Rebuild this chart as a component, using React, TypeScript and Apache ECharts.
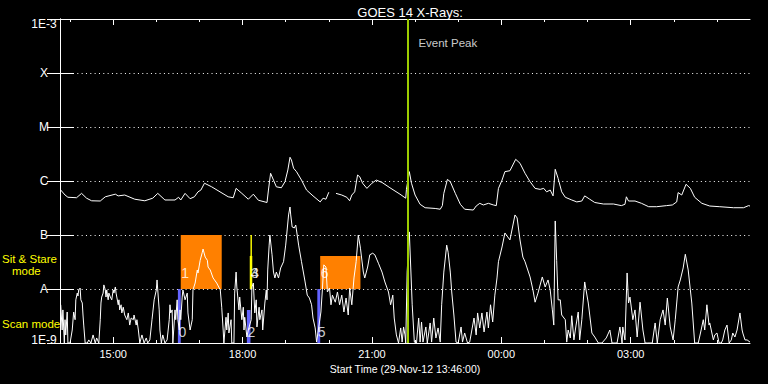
import React, { useEffect, useRef } from 'react';
import * as echarts from 'echarts';

// time is expressed in minutes elapsed since the start time 29-Nov-12 13:46:00
const START_CLOCK_MIN = 13 * 60 + 46;
const X_SPAN_MIN = 960;
const xLabelMinutes = [74, 254, 434, 614, 794];
const xTickLabels = ['15:00', '18:00', '21:00', '00:00', '03:00'];
const hourTickMinutes = [14, 74, 134, 194, 254, 314, 374, 434, 494, 554, 614, 674, 734, 794, 854, 914];
const yTickLabels = ['1E-9', 'A', 'B', 'C', 'M', 'X', '1E-3'];

// GOES 14 long channel (1-8 A), W/m^2
const longChannel: (number | null)[][] = [
  [1, 6.8e-7], [7, 5.5e-7], [11, 5.0e-7], [23, 4.9e-7], [30, 5.9e-7], [37, 4.8e-7], [44, 4.3e-7], [56, 4.26e-7],
  [63, 5.1e-7], [77, 5.7e-7], [81, 5.3e-7], [90, 5.5e-7], [104, 4.6e-7], [118, 4.3e-7], [129, 4.8e-7], [136, 5.9e-7],
  [146, 4.45e-7], [160, 4.45e-7], [165, 5.0e-7], [168, 4.45e-7], [174, 5.9e-7], [181, 4.7e-7], [187, 5.1e-7], [192, 6.3e-7],
  [196, 6.8e-7], [201, 9.1e-7], [211, 7.8e-7], [234, 5.1e-7], [241, 4.9e-7], [245, 7.3e-7], [253, 5.9e-7], [262, 4.6e-7],
  [269, 5.7e-7], [276, 4.4e-7], [288, 4.0e-7], [290, 6.8e-7], [293, 1.39e-6], [297, 1.04e-6], [301, 7.8e-7], [308, 7.5e-7],
  [313, 9.7e-7], [317, 1.6e-6], [320, 2.75e-6], [322, 2.45e-6], [325, 1.72e-6], [329, 1.49e-6], [336, 1.04e-6], [343, 6.8e-7],
  [352, 5.3e-7], [362, 4.1e-7], [366, 4.8e-7], [370, 4.6e-7], [374, 6.2e-7], [379, null], [384, 5.9e-7], [392, 5.5e-7],
  [399, 5.0e-7], [403, 4.3e-7], [406, 5.5e-7], [410, 6.3e-7], [414, 1.29e-6], [417, 1.2e-6], [421, 9.1e-7], [427, 7.3e-7],
  [434, 9.1e-7], [440, 1.04e-6], [448, 9.4e-7], [459, 7.5e-7], [473, 5.7e-7], [481, 4.8e-7], [482, 7.0e-7], [486, 1.49e-6],
  [489, 9.1e-7], [494, 5.5e-7], [501, 3.7e-7], [508, 3.2e-7], [522, 3.1e-7], [529, 3.0e-7], [532, 3.5e-7], [534, 5.9e-7],
  [539, 1.07e-6], [543, 9.7e-7], [550, 5.9e-7], [557, 3.7e-7], [563, 3.0e-7], [575, 2.9e-7], [579, 3.44e-7], [584, 3.86e-7],
  [589, 3.6e-7], [596, 3.86e-7], [603, 3.6e-7], [607, 3.5e-7], [610, 7.3e-7], [615, 1.04e-6], [619, 1.49e-6], [626, 1.55e-6],
  [634, 2.52e-6], [640, 2.13e-6], [647, 1.39e-6], [654, 9.7e-7], [661, 7.3e-7], [668, 7.0e-7], [673, 7.3e-7], [677, 6.3e-7],
  [682, 6.8e-7], [686, 5.3e-7], [689, 1.65e-6], [693, 1.12e-6], [698, 6.3e-7], [703, 5.0e-7], [712, 4.45e-7], [719, 4.1e-7],
  [726, 4.26e-7], [730, 5.3e-7], [737, 4.6e-7], [744, 4.0e-7], [756, 3.75e-7], [770, 3.75e-7], [781, 3.5e-7], [786, 3.7e-7],
  [788, 5.1e-7], [791, 4.26e-7], [800, 4.26e-7], [809, 3.86e-7], [819, 3.34e-7], [830, 3.34e-7], [844, 3.5e-7], [852, 3.6e-7],
  [858, 4.1e-7], [860, 6.1e-7], [865, 5.5e-7], [871, 8.7e-7], [877, 7.3e-7], [883, 5.0e-7], [893, 3.86e-7], [904, 3.44e-7],
  [918, 3.34e-7], [937, 3.2e-7], [951, 3.2e-7], [958, 3.5e-7], [960, 3.44e-7],
];

// GOES 14 short channel (0.5-4 A), W/m^2
const shortChannel: number[][] = [
  [1, 5.1e-9], [3, 1.74e-9], [4, 4.1e-9], [6, 1e-9], [7, 2.7e-9], [8, 1.41e-9], [10, 3.75e-9], [11, 1e-9], [14, 1e-9],
  [17, 1.74e-9], [19, 3.75e-9], [21, 2.7e-9], [22, 6.3e-9], [24, 8.4e-9], [25, 7.4e-9], [26, 9.6e-9], [28, 1.04e-8],
  [29, 6.3e-9], [31, 5.5e-9], [32, 3.3e-9], [33, 2.15e-9], [35, 1e-9], [38, 1e-9], [40, 1.14e-9], [43, 1e-9], [46, 1.41e-9],
  [49, 1e-9], [51, 1.24e-9], [54, 1e-9], [56, 2.7e-9], [57, 5.5e-9], [58, 7.1e-9], [60, 8.4e-9], [61, 1.19e-8], [63, 9.6e-9],
  [64, 7.1e-9], [65, 9.6e-9], [67, 6.3e-9], [68, 8.4e-9], [70, 7.1e-9], [72, 6.3e-9], [74, 9.6e-9], [75, 8.4e-9], [77, 1.09e-8],
  [78, 8.4e-9], [79, 7.1e-9], [81, 5.1e-9], [82, 6.3e-9], [83, 4.1e-9], [85, 5.1e-9], [86, 3.6e-9], [88, 4.6e-9], [90, 3.3e-9],
  [93, 2.7e-9], [95, 3.6e-9], [97, 2.15e-9], [99, 2.9e-9], [102, 2.7e-9], [103, 3.3e-9], [106, 2.15e-9], [107, 2.7e-9],
  [109, 1.74e-9], [111, 1e-9], [114, 1.41e-9], [117, 1e-9], [120, 1.24e-9], [122, 1e-9], [125, 1.14e-9], [128, 2.7e-9],
  [131, 6.3e-9], [134, 9.6e-9], [135, 1.47e-8], [136, 9.6e-9], [138, 4.1e-9], [139, 1.74e-9], [141, 1e-9], [143, 1.41e-9],
  [146, 1e-9], [149, 1.14e-9], [152, 2.7e-9], [153, 5.1e-9], [154, 3.6e-9], [156, 4.1e-9], [157, 1e-9], [160, 4.1e-9],
  [161, 2.7e-9], [163, 6.3e-9], [164, 2.7e-9], [166, 1.74e-9], [167, 4.1e-9], [168, 2.7e-9], [170, 7.1e-9], [171, 9.6e-9],
  [174, 6.3e-9], [177, 8.4e-9], [178, 3.6e-9], [181, 1.74e-9], [184, 2.7e-9], [185, 9.6e-9], [188, 1.29e-8], [191, 2.25e-8],
  [192, 1.98e-8], [195, 3.4e-8], [198, 4.8e-8], [199, 5.5e-8], [202, 3.9e-8], [205, 3.4e-8], [206, 2.55e-8], [209, 2.25e-8],
  [213, 1.6e-8], [218, 1.29e-8], [223, 9.6e-9], [225, 4.6e-9], [227, 1.74e-9], [228, 1e-9], [231, 3.0e-9], [232, 1.74e-9],
  [234, 3.6e-9], [235, 1.53e-9], [238, 2.7e-9], [239, 1e-9], [242, 1e-9], [243, 8.4e-9], [245, 2.06e-8], [246, 1.09e-8],
  [249, 4.1e-9], [250, 7.1e-9], [253, 2.7e-9], [255, 4.6e-9], [256, 1.74e-9], [257, 3.0e-9], [260, 1.29e-9], [262, 1.74e-9],
  [266, 2.7e-9], [267, 1.09e-8], [269, 1.29e-8], [271, 3.6e-9], [273, 6.3e-9], [274, 1.98e-9], [277, 4.6e-9], [278, 2.7e-9],
  [281, 4.1e-9], [282, 1.74e-9], [285, 5.5e-9], [287, 9.6e-9], [288, 6.3e-9], [289, 2.25e-8], [291, 6.5e-8], [292, 1.0e-7],
  [295, 4.3e-8], [297, 2.06e-8], [299, 1.6e-8], [301, 2.06e-8], [304, 1.6e-8], [307, 2.45e-8], [311, 3.2e-8], [314, 6.5e-8],
  [318, 2.35e-7], [320, 3.3e-7], [321, 2.35e-7], [323, 1.41e-7], [326, 1.35e-7], [328, 1.53e-7], [332, 6.5e-8], [336, 3.2e-8],
  [341, 1.35e-8], [344, 7.7e-9], [347, 6.8e-9], [350, 5.1e-9], [352, 2.9e-9], [355, 1.9e-9], [357, 1.04e-9], [363, 3.75e-9],
  [365, 9.6e-9], [367, 2.8e-8], [370, 2.55e-8], [372, 8.8e-9], [375, 1.04e-8], [377, 5.1e-9], [379, 7.7e-9], [383, 5.7e-9],
  [386, 8.8e-9], [389, 5.1e-9], [392, 7.7e-9], [395, 3.75e-9], [398, 6.8e-9], [401, 3.3e-9], [403, 1.04e-8], [406, 5.1e-9],
  [409, 1.6e-8], [412, 3.2e-8], [415, 1.0e-7], [418, 5.7e-8], [422, 2.06e-8], [424, 1.6e-8], [428, 2.55e-8], [431, 4.3e-8],
  [435, 4.6e-8], [438, 4.3e-8], [443, 3.0e-8], [448, 2.06e-8], [452, 1.35e-8], [457, 8.8e-9], [460, 5.1e-9], [463, 7.7e-9],
  [465, 2.9e-9], [468, 1.41e-9], [471, 1e-9], [474, 1.9e-9], [476, 1.04e-9], [478, 1.98e-9], [480, 1.41e-9], [481, 1e-9],
  [483, 2.06e-8], [486, 1.14e-7], [488, 2.45e-8], [490, 5.1e-9], [493, 1.04e-9], [496, 1e-9], [499, 2.9e-9], [501, 1.04e-9],
  [503, 2.45e-9], [505, 1.04e-9], [509, 1.98e-9], [511, 1e-9], [515, 2.35e-9], [517, 1.04e-9], [520, 2.9e-9], [523, 1.24e-9],
  [526, 1.9e-9], [529, 1.04e-9], [531, 5.1e-9], [534, 2.06e-8], [538, 6.5e-8], [540, 4.8e-8], [543, 2.06e-8], [545, 8.8e-9],
  [548, 3.3e-9], [551, 1.04e-9], [554, 1e-9], [558, 1.98e-9], [560, 1.04e-9], [563, 1.53e-9], [567, 1e-9], [570, 1.04e-9],
  [576, 2.9e-9], [579, 1.41e-9], [581, 3.6e-9], [584, 1.9e-9], [587, 3.6e-9], [590, 1.6e-9], [594, 3.75e-9], [596, 1.9e-9],
  [599, 5.1e-9], [602, 2.45e-9], [605, 7.7e-9], [608, 1.6e-8], [610, 3.2e-8], [615, 6.0e-8], [619, 1.09e-7], [623, 9.2e-8],
  [626, 8.1e-8], [633, 2.35e-7], [636, 2.07e-7], [640, 8.1e-8], [644, 3.9e-8], [647, 3.2e-8], [654, 1.67e-8], [658, 9.6e-9],
  [661, 5.7e-9], [665, 8.4e-9], [671, 1.67e-8], [675, 1.09e-8], [679, 1.47e-8], [682, 9.6e-9], [685, 4.1e-9], [687, 2.15e-9],
  [689, 1.82e-7], [691, 3.4e-8], [693, 6.3e-9], [696, 6.3e-9], [698, 3.3e-9], [703, 2.7e-9], [705, 1.04e-9], [707, 1.74e-9],
  [710, 1.24e-9], [712, 3.2e-9], [715, 1.14e-9], [718, 2.15e-9], [721, 3.75e-9], [723, 1.14e-9], [726, 2.7e-9], [730, 1.35e-8],
  [735, 5.5e-9], [737, 3.3e-9], [740, 1.53e-9], [744, 1.29e-9], [749, 1e-9], [754, 1e-9], [760, 1.24e-9], [765, 1.74e-9],
  [768, 1e-9], [775, 1e-9], [779, 1.98e-9], [782, 1e-9], [783, 1.98e-9], [786, 1.14e-9], [789, 1.98e-8], [791, 5.5e-9],
  [793, 7.1e-9], [797, 2.7e-9], [800, 4.1e-9], [803, 1.29e-9], [807, 5.7e-9], [811, 1.74e-9], [814, 1e-9], [817, 1e-9],
  [824, 1e-9], [828, 2.35e-9], [831, 1e-9], [832, 1.29e-9], [835, 2.7e-9], [839, 4.1e-9], [842, 2.15e-9], [845, 6.8e-9],
  [849, 1.98e-9], [853, 1.14e-9], [856, 2.7e-9], [860, 1.09e-8], [863, 1.47e-8], [867, 2.45e-8], [870, 4.4e-8], [874, 2.25e-8],
  [877, 9.6e-9], [879, 5.5e-9], [883, 1e-9], [888, 1e-9], [892, 1.74e-9], [895, 2.7e-9], [897, 1.74e-9], [900, 5.1e-9],
  [903, 2.15e-9], [904, 2.35e-9], [909, 1.14e-9], [911, 1.41e-9], [914, 1.53e-9], [917, 1e-9], [920, 1e-9], [922, 1.14e-9],
  [925, 1.74e-9], [928, 2.15e-9], [931, 1e-9], [934, 1.14e-9], [936, 1.53e-9], [939, 1.29e-9], [942, 1.74e-9], [946, 3.6e-9],
  [949, 1.74e-9], [950, 1.53e-9], [953, 1.14e-9], [956, 1.14e-9], [960, 1.04e-9],
];

// observing windows: [startMin, endMin, lowFlux, highFlux]
const sitStareBoxes = [[168, 225, 1e-8, 1e-7], [362, 418, 1e-8, 4.1e-8]];
const scanBars = [[164, 168, 1e-9, 1e-8], [260, 265, 1e-9, 4.1e-9], [358, 362, 1e-9, 1e-8]];
const stareBars = [[265, 267, 1e-8, 1e-7], [264, 267.5, 1e-8, 4.1e-8]];
// observation numbers: [minute, flux, text]
const obsLabels: (number | string)[][] = [
  [164, 1.6e-9, '0'], [168, 2e-8, '1'], [260, 1.6e-9, '2'], [265, 2e-8, '3'],
  [265, 2e-8, '4'], [358, 1.6e-9, '5'], [362, 2e-8, '6'],
];
const eventPeakMinute = 484;
const eventPeakLabel: (number | string)[][] = [[eventPeakMinute, 3.6e-4, 'Event Peak']];

const FONT = 'Liberation Sans';
const WHITE = '#ffffff';

function fmtClock(m: number): string {
  const i = xLabelMinutes.indexOf(m);
  if (i >= 0) return xTickLabels[i];
  const t = (START_CLOCK_MIN + m) % 1440;
  const h = Math.floor(t / 60);
  const mm = Math.round(t % 60);
  return `${String(h).padStart(2, '0')}:${String(mm).padStart(2, '0')}`;
}

function boxSeries(data: number[][], color: string, z: number) {
  return {
    type: 'custom',
    xAxisIndex: 0,
    yAxisIndex: 0,
    z,
    silent: true,
    encode: { x: [0, 1], y: [2, 3] },
    data,
    renderItem: (_p: any, api: any) => {
      const a = api.coord([api.value(0), api.value(3)]);
      const b = api.coord([api.value(1), api.value(2)]);
      return {
        type: 'rect',
        shape: { x: a[0], y: a[1], width: b[0] - a[0], height: b[1] - a[1] },
        style: { fill: color },
      };
    },
  };
}

export default function App() {
  const ref = useRef<HTMLDivElement>(null);
  useEffect(() => {
    if (!ref.current) return;
    const chart = echarts.init(ref.current, undefined, { renderer: 'svg' });
    const xCommon = { type: 'value', min: 0, max: X_SPAN_MIN, gridIndex: 0, splitLine: { show: false } };
    const yCommon = { type: 'log', logBase: 10, min: 1e-9, max: 1e-3, splitNumber: 6 };
    chart.setOption({
      animation: false,
      backgroundColor: '#000000',
      title: {
        text: 'GOES 14 X-Rays:',
        left: 405,
        textAlign: 'center',
        top: 1,
        textStyle: { color: WHITE, fontSize: 13, fontWeight: 'normal', fontFamily: FONT },
      },
      grid: { left: 60, right: 18, top: 19, bottom: 41 },
      xAxis: [
        {
          ...xCommon,
          position: 'bottom',
          axisLine: { show: true, lineStyle: { color: WHITE, width: 1 } },
          axisTick: { show: true, inside: true, length: 6, customValues: xLabelMinutes, lineStyle: { color: WHITE } },
          axisLabel: { show: true, customValues: xLabelMinutes, formatter: (v: number) => fmtClock(v), color: WHITE, fontSize: 11, fontFamily: FONT, margin: 5 },
          name: 'Start Time (29-Nov-12 13:46:00)',
          nameLocation: 'middle',
          nameGap: 19,
          nameTextStyle: { color: WHITE, fontSize: 10.5, fontFamily: FONT },
        },
        {
          ...xCommon,
          position: 'top',
          axisLine: { show: true, lineStyle: { color: WHITE, width: 1 } },
          axisTick: { show: true, inside: true, length: 6, customValues: xLabelMinutes, lineStyle: { color: WHITE } },
          axisLabel: { show: false },
        },
        {
          ...xCommon,
          position: 'bottom',
          axisLine: { show: false },
          axisTick: { show: true, inside: true, length: 3, customValues: hourTickMinutes, lineStyle: { color: WHITE } },
          axisLabel: { show: false },
        },
        {
          ...xCommon,
          position: 'top',
          axisLine: { show: false },
          axisTick: { show: true, inside: true, length: 3, customValues: hourTickMinutes, lineStyle: { color: WHITE } },
          axisLabel: { show: false },
        },
      ],
      yAxis: [
        {
          ...yCommon,
          position: 'left',
          axisLine: { show: true, lineStyle: { color: WHITE, width: 1 } },
          axisTick: { show: true, inside: true, length: 14, lineStyle: { color: WHITE } },
          axisLabel: {
            color: WHITE,
            fontSize: 12,
            fontFamily: FONT,
            margin: 16,
            align: 'center',
            formatter: (v: number) => {
              const i = Math.round(Math.log10(v)) + 9;
              const t = yTickLabels[i] ?? '';
              if (i === 6) return `{top|${t}}`;
              if (i === 0) return `{bot|${t}}`;
              return t;
            },
            rich: {
              top: { color: WHITE, fontSize: 12, fontFamily: FONT, padding: [9, 0, 0, 0] },
              bot: { color: WHITE, fontSize: 12, fontFamily: FONT, padding: [0, 0, 6, 0] },
            },
          },
          splitLine: { show: true, lineStyle: { color: WHITE, width: 1, type: [1, 3.33] } },
        },
        {
          ...yCommon,
          position: 'right',
          axisLine: { show: true, lineStyle: { color: WHITE, width: 1 } },
          axisTick: { show: true, inside: true, length: 13, lineStyle: { color: WHITE } },
          axisLabel: { show: false },
          splitLine: { show: false },
        },
      ],
      graphic: [
        { type: 'text', left: 2, top: 253, style: { text: 'Sit & Stare', fill: '#ffff00', fontSize: 11.5, fontFamily: FONT } },
        { type: 'text', left: 12, top: 265, style: { text: 'mode', fill: '#ffff00', fontSize: 11.5, fontFamily: FONT } },
        { type: 'text', left: 2, top: 318, style: { text: 'Scan mode', fill: '#ffff00', fontSize: 11.5, fontFamily: FONT } },
      ],
      series: [
        boxSeries(sitStareBoxes, '#ff8000', 1),
        boxSeries(scanBars, '#6464ff', 1),
        boxSeries(stareBars, '#ffff00', 1),
        {
          type: 'line',
          name: 'long',
          data: longChannel,
          showSymbol: false,
          symbol: 'none',
          connectNulls: false,
          lineStyle: { color: WHITE, width: 1 },
          z: 3,
          silent: true,
        },
        {
          type: 'line',
          name: 'short',
          data: shortChannel,
          showSymbol: false,
          symbol: 'none',
          lineStyle: { color: WHITE, width: 1 },
          z: 3,
          silent: true,
        },
        {
          type: 'scatter',
          data: obsLabels,
          symbolSize: 1,
          itemStyle: { color: 'rgba(0,0,0,0)' },
          z: 4,
          silent: true,
          label: {
            show: true,
            position: 'right',
            distance: 0,
            formatter: (p: any) => String(p.value[2]),
            color: WHITE,
            fontSize: 14,
            fontFamily: FONT,
          },
        },
        {
          type: 'scatter',
          data: eventPeakLabel,
          symbolSize: 1,
          itemStyle: { color: 'rgba(0,0,0,0)' },
          z: 4,
          silent: true,
          label: {
            show: true,
            position: 'right',
            distance: 10,
            formatter: (p: any) => String(p.value[2]),
            color: WHITE,
            fontSize: 11.5,
            fontFamily: FONT,
          },
          markLine: {
            silent: true,
            symbol: ['none', 'none'],
            label: { show: false },
            lineStyle: { color: '#9ccc00', width: 2, type: 'solid' },
            data: [{ xAxis: eventPeakMinute }],
          },
        },
      ],
    });
    return () => chart.dispose();
  }, []);
  return <div ref={ref} style={{ position: 'absolute', left: 0, top: 0, width: 768, height: 384, background: '#000' }} />;
}
